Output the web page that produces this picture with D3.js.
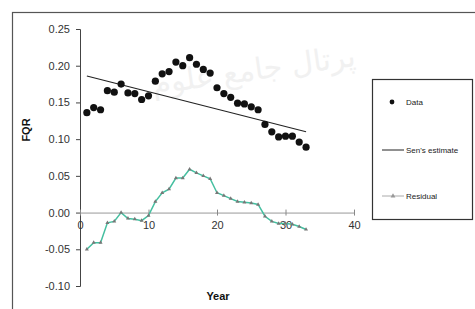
<!DOCTYPE html>
<html>
<head>
<meta charset="utf-8">
<script src="https://cdnjs.cloudflare.com/ajax/libs/d3/7.8.5/d3.min.js"></script>
<style>
    body { margin: 0; background: #fff; }
    svg { display: block; font-family: "Liberation Sans", Arial, sans-serif; }
    .tickText { font-size: 11px; fill: #333; }
    .axisTitle { font-size: 11px; font-weight: bold; fill: #111; }
    .legendText { font-size: 8px; fill: #222; }
</style>
</head>
<body>
<svg id="chart" width="475" height="309"></svg>
<script>
    // Values
    var years = [1, 2, 3, 4, 5, 6, 7, 8, 9, 10, 11, 12, 13, 14, 15, 16, 17,
                 18, 19, 20, 21, 22, 23, 24, 25, 26, 27, 28, 29, 30, 31, 32, 33];
    var fqrData = [0.136, 0.143, 0.140, 0.166, 0.164, 0.175, 0.163, 0.162, 0.154, 0.159, 0.179,
                   0.189, 0.192, 0.205, 0.200, 0.211, 0.202, 0.195, 0.190, 0.170, 0.162, 0.157,
                   0.149, 0.148, 0.144, 0.140, 0.120, 0.110, 0.103, 0.104, 0.104, 0.096, 0.089];
    var residual = [-0.050, -0.041, -0.041, -0.014, -0.012, 0.000, -0.008, -0.009, -0.011, -0.004, 0.015,
                    0.027, 0.032, 0.047, 0.047, 0.059, 0.054, 0.050, 0.046, 0.027, 0.023, 0.019,
                    0.015, 0.014, 0.013, 0.011, -0.005, -0.012, -0.015, -0.015, -0.016, -0.019, -0.023];
    var senYears = [1, 33];
    var senValues = [0.186, 0.110];

    var xTicks = [0, 10, 20, 30, 40];
    var xTickLabels = ["0", "10", "20", "30", "40"];
    var yTicks = [-0.10, -0.05, 0.00, 0.05, 0.10, 0.15, 0.20, 0.25];
    var yTickLabels = ["-0.10", "-0.05", "0.00", "0.05", "0.10", "0.15", "0.20", "0.25"];
    var legendLabels = ["Data", "Sen's estimate", "Residual"];

    var svg = d3.select("#chart");

    var x = d3.scaleLinear().domain([0, 40]).range([80, 354]);
    var y = d3.scaleLinear().domain([-0.10, 0.25]).range([286, 29]);

    const RESIDUAL_COLOR = "#45bfa0";

    // Outer frame (cropped on the right and bottom)
    svg.append("rect")
        .attr("x", 12.5).attr("y", 12.5)
        .attr("width", 480).attr("height", 310)
        .attr("fill", "none")
        .attr("stroke", "#555")
        .attr("stroke-width", 1.2);

    // Faint watermark of the scanned page
    svg.append("text")
        .attr("x", 255).attr("y", 80)
        .attr("text-anchor", "middle")
        .attr("transform", "rotate(-8 255 80)")
        .style("font-family", "DejaVu Sans")
        .style("font-size", "30px")
        .attr("fill", "#f1f1f1")
        .text("پرتال جامع علوم");

    // Y axis
    var yAxis = svg.append("g")
        .attr("transform", "translate(" + x(0) + ",0)")
        .call(d3.axisLeft(y)
            .tickValues(yTicks)
            .tickSize(4)
            .tickPadding(6)
            .tickFormat(function(d, i) { return yTickLabels[i]; }));
    yAxis.select(".domain").attr("stroke", "#444");
    yAxis.selectAll(".tick line").attr("stroke", "#444");
    yAxis.selectAll("text").attr("class", "tickText").attr("font-size", null).attr("font-family", null);

    // X axis along zero
    var xAxis = svg.append("g")
        .attr("transform", "translate(0," + y(0) + ")")
        .call(d3.axisBottom(x)
            .tickValues(xTicks)
            .tickSizeInner(3)
            .tickSizeOuter(0)
            .tickPadding(6)
            .tickFormat(function(d, i) { return xTickLabels[i]; }));
    xAxis.select(".domain").attr("stroke", "#999");
    xAxis.selectAll(".tick line").attr("stroke", "#888").attr("y1", -3);
    xAxis.selectAll("text").attr("class", "tickText").attr("font-size", null).attr("font-family", null);

    // Axis titles
    svg.append("text")
        .attr("class", "axisTitle")
        .attr("transform", "translate(30,130) rotate(-90)")
        .attr("text-anchor", "middle")
        .text("FQR");

    svg.append("text")
        .attr("class", "axisTitle")
        .attr("x", 218).attr("y", 300)
        .attr("text-anchor", "middle")
        .text("Year");

    // Residual line with small markers
    var residualLine = d3.line()
        .x(function(d, i) { return x(years[i]); })
        .y(function(d) { return y(d); });

    svg.append("path")
        .datum(residual)
        .attr("d", residualLine)
        .attr("fill", "none")
        .attr("stroke", RESIDUAL_COLOR)
        .attr("stroke-width", 1.5);

    svg.append("g")
        .selectAll("path")
        .data(residual)
        .enter().append("path")
            .attr("d", d3.symbol().type(d3.symbolTriangle).size(7))
            .attr("transform", function(d, i) { return "translate(" + x(years[i]) + "," + y(d) + ")"; })
            .attr("fill", "#777");

    // Sen's estimate
    var senLine = d3.line()
        .x(function(d, i) { return x(senYears[i]); })
        .y(function(d) { return y(d); });

    svg.append("path")
        .datum(senValues)
        .attr("d", senLine)
        .attr("fill", "none")
        .attr("stroke", "#222")
        .attr("stroke-width", 1.1);

    // Data points
    svg.append("g")
        .selectAll("circle")
        .data(fqrData)
        .enter().append("circle")
            .attr("cx", function(d, i) { return x(years[i]); })
            .attr("cy", function(d) { return y(d); })
            .attr("r", 3.6)
            .attr("fill", "#111");

    // Legend
    var legend = svg.append("g");
    legend.append("rect")
        .attr("x", 372.5).attr("y", 79.5)
        .attr("width", 100).attr("height", 140)
        .attr("fill", "#fff")
        .attr("stroke", "#333")
        .attr("stroke-width", 1.2);

    var legendY = [102, 150, 196];

    legend.append("circle")
        .attr("cx", 392).attr("cy", legendY[0])
        .attr("r", 2.4)
        .attr("fill", "#111");

    legend.append("line")
        .attr("x1", 382).attr("x2", 404)
        .attr("y1", legendY[1]).attr("y2", legendY[1])
        .attr("stroke", "#222");

    legend.append("line")
        .attr("x1", 382).attr("x2", 404)
        .attr("y1", legendY[2]).attr("y2", legendY[2])
        .attr("stroke", "#aaa");
    legend.append("path")
        .attr("d", d3.symbol().type(d3.symbolTriangle).size(10))
        .attr("transform", "translate(393," + legendY[2] + ")")
        .attr("fill", "#999");

    legend.selectAll("text.legendText")
        .data(legendLabels)
        .enter().append("text")
            .attr("class", "legendText")
            .attr("x", 406)
            .attr("y", function(d, i) { return legendY[i] + 3; })
            .text(function(d) { return d; });
</script>
</body>
</html>
